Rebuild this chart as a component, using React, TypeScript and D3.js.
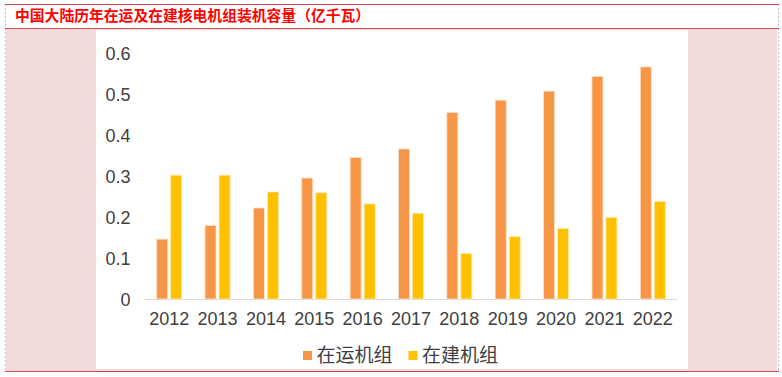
import React from "react";
import * as d3 from "d3";

const years = ["2012","2013","2014","2015","2016","2017","2018","2019","2020","2021","2022"];
const operating = [0.146,0.179,0.222,0.295,0.345,0.366,0.455,0.485,0.507,0.543,0.566];
const building = [0.302,0.302,0.261,0.259,0.232,0.209,0.111,0.152,0.172,0.199,0.238];
const yTicks = [0,0.1,0.2,0.3,0.4,0.5,0.6];
const seriesNames = ["在运机组","在建机组"];
const colors = ["#F79646","#FFC000"];
const title = "中国大陆历年在运及在建核电机组装机容量（亿千瓦）";

export default function App() {
  const W = 782, H = 377;
  const x = d3.scaleBand<string>().domain(years).range([145, 677]).padding(0);
  const y = d3.scaleLinear().domain([0, 0.6]).range([299, 53]);
  const barW = 11, gap = 3;
  const numFont = "'Liberation Sans', Arial, sans-serif";
  const cjkFont = "'Noto Sans CJK SC', sans-serif";
  return (
    <svg width={W} height={H} style={{ position: "fixed", left: 0, top: 0, background: "#fff" }}>
      <rect x={6} y={29} width={771} height={342} fill="#F2DCDB" />
      <rect x={96} y={30} width={592} height={339} fill="#fff" />
      <line x1={5.5} x2={5.5} y1={4} y2={372} stroke="#BFBFBF" strokeDasharray="2,2" />
      <line x1={778.5} x2={778.5} y1={4} y2={372} stroke="#BFBFBF" strokeDasharray="2,2" />
      <line x1={5} x2={779} y1={4.5} y2={4.5} stroke="#D04B4B" strokeWidth={1.2} />
      <line x1={5} x2={779} y1={28.5} y2={28.5} stroke="#D04B4B" strokeWidth={1.2} />
      <line x1={5} x2={779} y1={371.5} y2={371.5} stroke="#D04B4B" strokeWidth={1.2} />
      <text x={15} y={20.5} fill="#FF0000" fontFamily={cjkFont} fontWeight={700} fontSize={14.8}>{title}</text>

      {yTicks.map(t => (
        <text key={t} x={130.5} y={y(t) + 6.5} textAnchor="end" fill="#404040" fontFamily={numFont} fontSize={18}>{t === 0 ? "0" : t.toFixed(1)}</text>
      ))}
      <line x1={145} x2={677} y1={y(0) + 0.5} y2={y(0) + 0.5} stroke="#D9D9D9" strokeWidth={1.2} />
      {years.map((yr, i) => {
        const c = (x(yr) as number) + x.bandwidth() / 2;
        return (
          <g key={yr}>
            <rect x={c - gap / 2 - barW} y={y(operating[i])} width={barW} height={y(0) - y(operating[i])} fill={colors[0]} stroke="#FCE0C8" strokeWidth={0.8} />
            <rect x={c + gap / 2} y={y(building[i])} width={barW} height={y(0) - y(building[i])} fill={colors[1]} stroke="#FFE9A8" strokeWidth={0.8} />
            <text x={c} y={325} textAnchor="middle" fill="#404040" fontFamily={numFont} fontSize={18}>{yr}</text>
          </g>
        );
      })}
      {seriesNames.map((n, i) => {
        const lx = [303, 408.5][i];
        return (
          <g key={n}>
            <rect x={lx} y={351} width={9} height={9} fill={colors[i]} />
            <text x={lx + 13.5} y={362} fill="#404040" fontFamily={cjkFont} fontSize={19}>{n}</text>
          </g>
        );
      })}
    </svg>
  );
}
